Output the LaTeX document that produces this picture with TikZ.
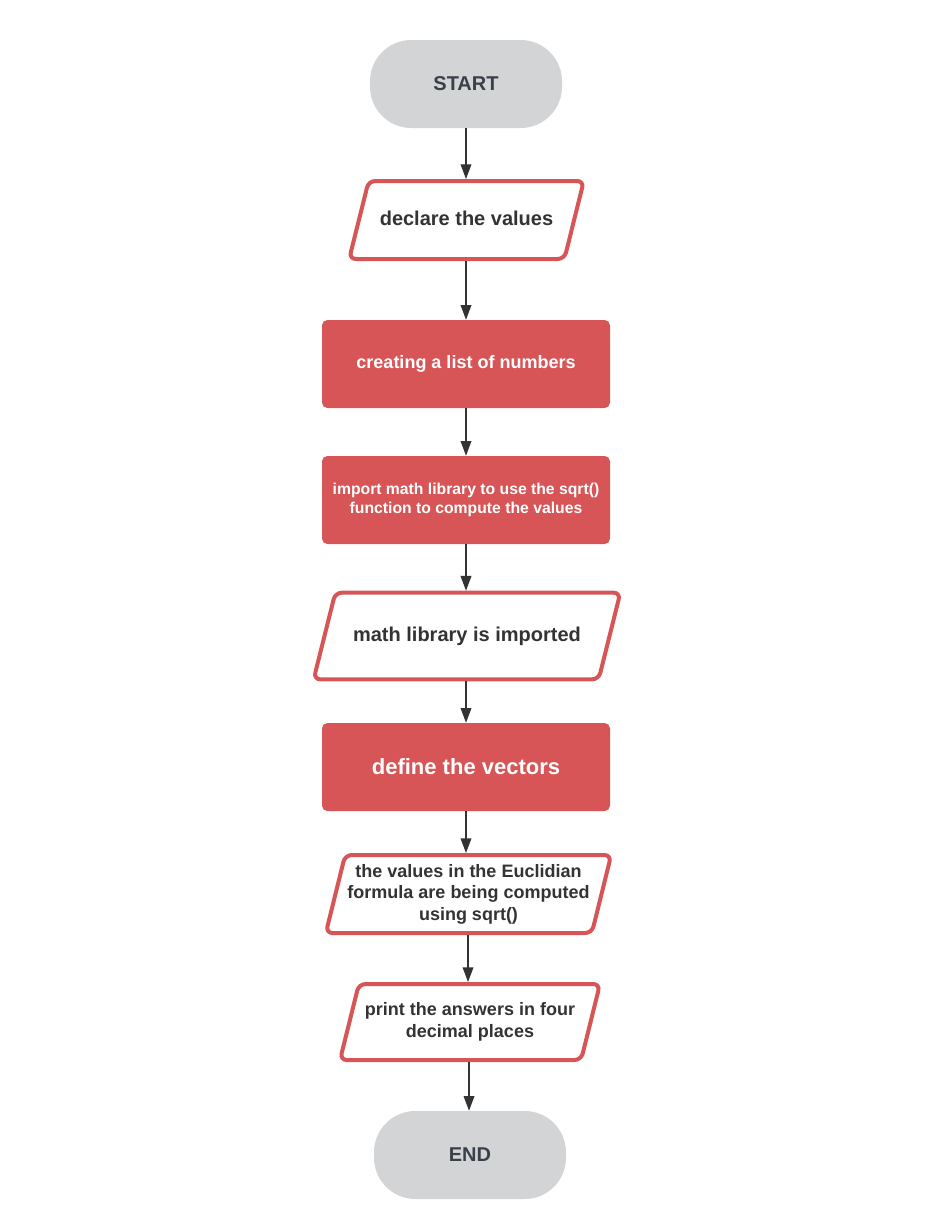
\documentclass[tikz,border=0pt]{standalone}
\usepackage{fontspec}
\setmainfont{Liberation Sans}
\usetikzlibrary{shapes.geometric,arrows.meta}

\definecolor{flowred}{RGB}{216,85,87}
\definecolor{termgray}{RGB}{211,212,214}
\definecolor{termink}{RGB}{58,64,74}
\definecolor{ink}{RGB}{51,51,51}

\tikzset{
  terminal/.style={fill=termgray,rounded corners=31pt,minimum width=144pt,minimum height=66pt,
    text=termink,font=\bfseries\fontsize{15}{18}\selectfont},
  process/.style={fill=flowred,rounded corners=4pt,minimum width=216pt,minimum height=66pt,
    text=white,align=center},
  inout/.style={trapezium,trapezium left angle=76,trapezium right angle=104,trapezium stretches body=true,
    draw=flowred,line width=3pt,rounded corners=5pt,fill=white,text=ink,align=center,inner sep=0pt},
  flow/.style={draw=ink,line width=1pt,-{Triangle[length=11pt,width=8pt]}}
}

\begin{document}
\begin{tikzpicture}[x=0.75pt,y=0.75pt]
  \fill [white] (0,0) rectangle (945,-1229);
  \useasboundingbox (0,0) rectangle (945,-1229);

  \node [terminal] (start) at (466,-84) {START};
  \node [inout,minimum width=176pt,text height=11pt,text depth=3pt,inner ysep=22.25pt,
    font=\bfseries\fontsize{15}{18}\selectfont] (declare) at (466.5,-220) {declare the values};
  \node [process,font=\bfseries\fontsize{13.5}{16.2}\selectfont] (numlist) at (466,-364) {creating a list of numbers};
  \node [process,font=\bfseries\fontsize{11.8}{14.2}\selectfont] (import) at (466,-500)
    {import math library to use the sqrt()\\function to compute the values};
  \node [inout,minimum width=230pt,text height=11pt,text depth=3pt,inner ysep=25.5pt,
    font=\bfseries\fontsize{15}{18}\selectfont] (imported) at (467,-636) {math library is imported};
  \node [process,font=\bfseries\fontsize{16.5}{19.8}\selectfont] (vectors) at (466,-767) {define the vectors};
  \node [inout,minimum width=214pt,minimum height=58.5pt,inner ysep=6.5pt,
    font=\bfseries\fontsize{13.5}{16.2}\selectfont]
    (euclid) at (468.5,-894) {the values in the Euclidian\\formula are being computed\\using sqrt()};
  \node [inout,minimum width=195pt,minimum height=57pt,inner ysep=14pt,
    font=\bfseries\fontsize{13.5}{16.2}\selectfont]
    (answers) at (470,-1022) {print the answers in four\\decimal places};
  \node [terminal] (finish) at (470,-1155) {END};

  % connectors
  \draw [flow] (start) -- (start |- declare.north);
  \draw [flow] (start |- declare.south) -- (numlist);
  \draw [flow] (numlist) -- (import);
  \draw [flow] (import) -- (import |- imported.north);
  \draw [flow] (import |- imported.south) -- (vectors);
  \draw [flow] (vectors) -- (vectors |- euclid.north);
  \draw [flow] (euclid.south) ++(-0.5,0) coordinate (euclidout) -- (euclidout |- answers.north);
  \draw [flow] (answers.south) ++(-1,0) coordinate (answersout) -- (answersout |- finish.north);
\end{tikzpicture}
\end{document}
